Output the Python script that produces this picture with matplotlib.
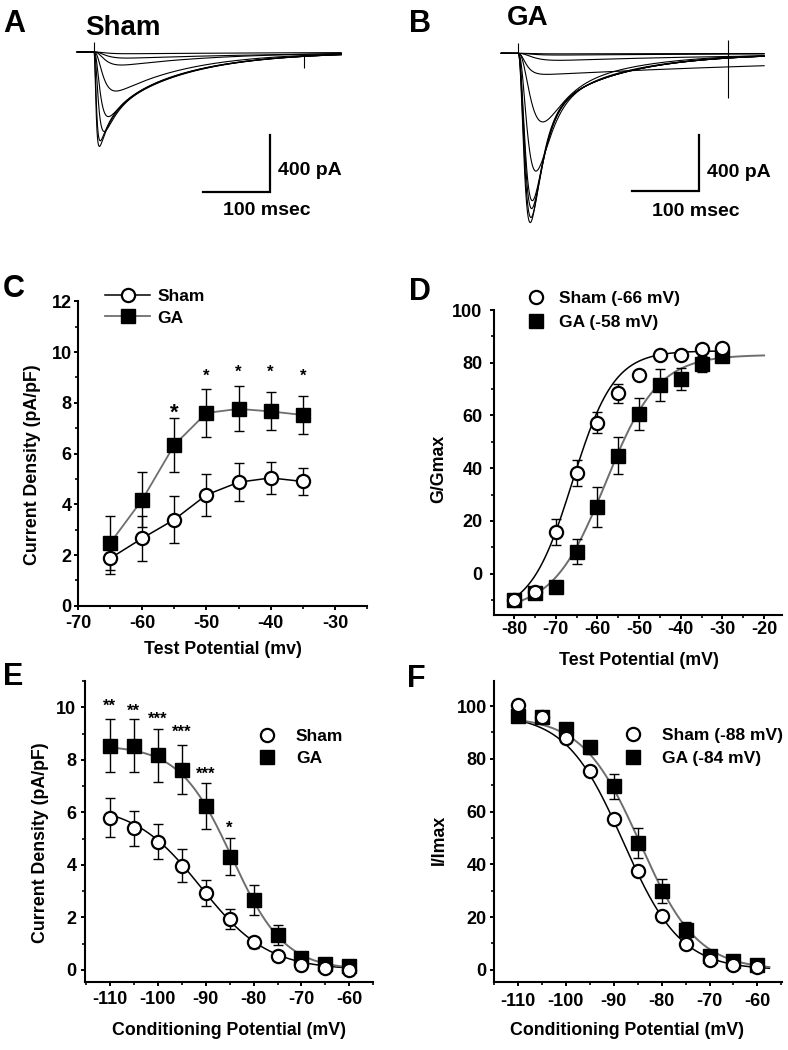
import numpy as np
import matplotlib
matplotlib.use("Agg")
import matplotlib.pyplot as plt
from matplotlib.lines import Line2D
from matplotlib.ticker import MultipleLocator

plt.rcParams["font.family"] = ["Liberation Sans", "DejaVu Sans"]
plt.rcParams["font.weight"] = "bold"
plt.rcParams["axes.labelweight"] = "bold"
plt.rcParams["axes.unicode_minus"] = False

W, H = 788, 1050
GRIGIO = "#6e6e6e"

# === A / B: tracce di corrente (pA, ms) =====================================
# ogni traccia: I(t) = -m^3 * (F*exp(-t/tau_f) + S*exp(-t/tau_s)), m = 1 - exp(-t/tau_m)
sham_tau_m = [2.0, 2.4, 4.5, 6.5, 9.0, 11.0, 12.0, 12.0]
sham_F = [377, 370, 433, 309, 0, 0, 0, 0]
sham_tau_f = [16, 16, 18, 20, 25, 25, 25, 25]
sham_S = [511, 500, 500, 490, 400, 130, 55, 15]
sham_tau_s = [112, 112, 112, 112, 112, 150, 250, 300]

ga_tau_m = [9, 10, 11, 12, 16, 20, 8, 15, 15, 15]
ga_F = [4478, 4915, 5185, 5467, 5113, 2202, 0, 0, 0, 0]
ga_tau_f = [15.5, 15.5, 15.5, 15.5, 18, 25, 25, 25, 25, 25]
ga_S = [565, 565, 565, 565, 540, 450, 165, 65, 16, 5]
ga_tau_s = [112, 112, 112, 112, 112, 112, 600, 300, 300, 300]

# artefatti di stimolo: tempo, valore basso, valore alto (pA)
art_sham = ([0, 314], [0, -113], [70, -30])
art_ga = ([0, 315], [0, -324], [77, 95])

# === C: densita' di corrente vs potenziale di test ==========================
c_v = [-65, -60, -55, -50, -45, -40, -35]
c_sham = [1.87, 2.66, 3.40, 4.37, 4.87, 5.04, 4.90]
c_sham_err = [0.60, 0.89, 0.93, 0.83, 0.75, 0.64, 0.55]
c_ga = [2.47, 4.18, 6.34, 7.60, 7.76, 7.66, 7.52]
c_ga_err = [1.06, 1.08, 1.05, 0.95, 0.89, 0.75, 0.76]
c_star_v = [-55, -50, -45, -40, -35]
c_star_y = [7.59, 9.06, 9.19, 9.19, 9.06]
c_star_size = [16, 12, 12, 12, 12]

# === D: G/Gmax ==============================================================
d_v = [-80, -75, -70, -65, -60, -55, -50, -45, -40, -35, -30]
d_sham = [-10.0, -6.8, 15.7, 38.1, 57.3, 68.4, 75.4, 82.9, 82.9, 85.2, 85.5]
d_sham_err = [1.0, 1.0, 4.9, 5.0, 4.0, 3.5, 1.0, 1.2, 1.2, 1.5, 1.5]
d_ga = [-10.0, -7.4, -4.9, 8.3, 25.4, 44.7, 60.6, 71.6, 73.7, 79.5, 82.6]
d_ga_err = [1.0, 1.0, 1.0, 4.7, 7.6, 7.0, 6.0, 6.0, 4.2, 3.0, 2.0]
# Boltzmann: basso, alto, V1/2, k, range
d_fit_sham = (-15.0, 84.5, -66.0, 5.0, -80, -30)
d_fit_ga = (-14.0, 83.0, -58.0, 6.3, -80, -20)

# === E: densita' di corrente vs potenziale di condizionamento ===============
e_v = [-110, -105, -100, -95, -90, -85, -80, -75, -70, -65, -60]
e_sham = [5.79, 5.39, 4.88, 3.97, 2.92, 1.94, 1.05, 0.53, 0.19, 0.06, 0.0]
e_sham_err = [0.74, 0.67, 0.67, 0.63, 0.50, 0.37, 0.20, 0.15, 0.10, 0.08, 0.05]
e_ga = [8.54, 8.54, 8.17, 7.63, 6.24, 4.31, 2.66, 1.33, 0.44, 0.22, 0.15]
e_ga_err = [1.02, 1.02, 1.00, 0.95, 0.86, 0.70, 0.57, 0.38, 0.15, 0.10, 0.10]
e_fit_sham = (0.0, 6.3, -91.0, 7.0, -110, -60)
e_fit_ga = (0.0, 8.55, -84.5, 5.5, -110, -60)
e_star_v = [-110, -105, -100, -95, -90, -85]
e_star_y = [10.04, 9.85, 9.53, 9.03, 7.44, 5.41]
e_star_txt = ["**", "**", "***", "***", "***", "*"]

# === F: I/Imax ==============================================================
f_v = e_v
f_sham = [100.3, 95.8, 87.8, 75.5, 57.3, 37.5, 20.3, 9.9, 3.8, 1.9, 0.9]
f_sham_err = [1.5, 1.0, 1.0, 1.0, 1.0, 1.0, 1.0, 1.0, 1.0, 0.8, 0.5]
f_ga = [96.4, 95.8, 91.3, 84.4, 69.6, 48.1, 29.9, 15.0, 5.1, 3.5, 1.9]
f_ga_err = [1.0, 1.0, 1.0, 2.5, 4.7, 5.6, 4.7, 3.0, 1.5, 1.0, 1.0]
f_fit_sham = (0.0, 97.0, -88.0, 6.0, -110, -57.5)
f_fit_ga = (0.0, 96.0, -84.5, 6.0, -110, -57.5)

fig = plt.figure(figsize=(W / 100, H / 100), dpi=100)


def add_ax(l, t, r, b):
    return fig.add_axes([l / W, 1 - b / H, (r - l) / W, (b - t) / H])


def ftext(x, y, s, **kw):
    return fig.text(x / W, 1 - y / H, s, **kw)


def corrente(t, tau_m, F, tau_f, S, tau_s):
    tt = np.clip(t, 0, None)
    m = 1 - np.exp(-tt / tau_m)
    return -(m ** 3) * (F * np.exp(-tt / tau_f) + S * np.exp(-tt / tau_s))


def boltzmann(par):
    basso, alto, v_half, k, v0, v1 = par
    v = np.linspace(v0, v1, 300)
    return v, basso + (alto - basso) / (1 + np.exp((v - v_half) / k))


def boltzmann_att(par):
    basso, alto, v_half, k, v0, v1 = par
    v = np.linspace(v0, v1, 300)
    return v, basso + (alto - basso) / (1 + np.exp((v_half - v) / k))


def pannello_tracce(ax, params, art, xlim, ylim, angolo):
    t = np.linspace(-25, 369, 2500)
    for tm, F, tf, S, ts in zip(*params):
        ax.plot(t, corrente(t, tm, F, tf, S, ts), color="k", lw=0.8)
    ax.vlines(art[0], art[1], art[2], color="k", lw=0.8)
    # barre di scala 100 ms / 400 pA
    tx, iy = angolo
    ax.plot([tx - 100, tx, tx], [iy, iy, iy + 400], color="k", lw=1.6,
            solid_joinstyle="miter")
    ax.set_xlim(*xlim)
    ax.set_ylim(*ylim)
    ax.axis("off")


# --- A ---
axA = add_ax(60, 0, 360, 235)
pannello_tracce(axA, (sham_tau_m, sham_F, sham_tau_f, sham_S, sham_tau_s), art_sham,
                (-50.7, 397), (-1291.5, 367), (262.7, -985.9))
# --- B ---
axB = add_ax(480, 0, 788, 240)
pannello_tracce(axB, (ga_tau_m, ga_F, ga_tau_f, ga_S, ga_tau_s), art_ga,
                (-57, 404.8), (-1343, 383.5), (271.4, -988.5))

ftext(3, 32, "A", fontsize=22, va="baseline")
ftext(409, 32, "B", fontsize=22, va="baseline")
ftext(85, 35, "Sham", fontsize=20, va="baseline")
ftext(507, 25, "GA", fontsize=20, va="baseline")
ftext(278, 175, "400 pA", fontsize=14, va="baseline")
ftext(707, 177, "400 pA", fontsize=14, va="baseline")
ftext(267, 215, "100 msec", fontsize=14, va="baseline", ha="center")
ftext(696, 216, "100 msec", fontsize=14, va="baseline", ha="center")
ftext(3, 297, "C", fontsize=22, va="baseline")
ftext(409, 300, "D", fontsize=22, va="baseline")
ftext(3, 685, "E", fontsize=22, va="baseline")
ftext(407, 687, "F", fontsize=22, va="baseline")


def stile(ax, xlim, ylim, xmaj, ymaj, ymin, xpad, ypad, xlabel, ylabel, xl, yl):
    ax.set_xlim(*xlim)
    ax.set_ylim(*ylim)
    for s in ["top", "right"]:
        ax.spines[s].set_visible(False)
    for s in ["left", "bottom"]:
        ax.spines[s].set_linewidth(1.5)
    ax.xaxis.set_major_locator(MultipleLocator(xmaj))
    ax.xaxis.set_minor_locator(MultipleLocator(xmaj / 2))
    ax.yaxis.set_major_locator(MultipleLocator(ymaj))
    ax.yaxis.set_minor_locator(MultipleLocator(ymin))
    ax.tick_params(which="major", direction="out", length=3.2, width=1.4, labelsize=13)
    ax.tick_params(which="minor", direction="out", length=2.2, width=1.2)
    ax.tick_params(axis="x", which="major", pad=xpad)
    ax.tick_params(axis="y", which="major", pad=ypad)
    ax.set_xlabel(xlabel, fontsize=12.8, fontweight="bold", va="center")
    ax.set_ylabel(ylabel, fontsize=12.8, fontweight="bold", va="center")
    ax.xaxis.set_label_coords(*xl)
    ax.yaxis.set_label_coords(*yl)
    ax.patch.set_alpha(0)


def legenda(ax, handles, labels, left, top, hl, pad, sp):
    ax.legend(handles, labels, loc="upper left", bbox_to_anchor=(left / W, 1 - top / H),
              bbox_transform=fig.transFigure, frameon=False, borderpad=0, borderaxespad=0,
              handlelength=hl, handletextpad=pad, labelspacing=sp,
              prop={"weight": "bold", "size": 12.5})


MS = 9.5
h_sham = dict(marker="o", ms=MS, mfc="white", mec="k", mew=1.6)
h_ga = dict(marker="s", ms=MS, mfc="k", mec="k", mew=1.0)
err = dict(fmt="none", ecolor="k", elinewidth=1.0, capsize=3.5, capthick=1.0, zorder=2)

# --- C ---
axC = add_ax(78, 301.3, 367, 605.8)
axC.plot(c_v, c_ga, color=GRIGIO, lw=1.3, zorder=1)
axC.plot(c_v, c_sham, color="k", lw=1.1, zorder=1)
axC.errorbar(c_v, c_ga, yerr=c_ga_err, **err)
axC.errorbar(c_v, c_sham, yerr=c_sham_err, **err)
axC.plot(c_v, c_ga, ls="none", zorder=3, **h_ga)
axC.plot(c_v, c_sham, ls="none", zorder=4, **h_sham)
for v, y, fs in zip(c_star_v, c_star_y, c_star_size):
    axC.text(v, y, "*", ha="center", va="center", fontsize=fs)
stile(axC, (-70, -25), (0, 12), 10, 2, 1, 3.2, 1.4,
      "Test Potential (mv)", "Current Density (pA/pF)", (0.502, -0.145), (-0.156, 0.462))
legenda(axC, [Line2D([], [], color="k", lw=1.1, **h_sham),
              Line2D([], [], color=GRIGIO, lw=1.3, **h_ga)],
        ["Sham", "GA"], 105, 289, 2.6, 0.4, 0.36)

# --- D ---
axD = add_ax(494, 310, 782, 615)
v, y = boltzmann_att(d_fit_sham)
axD.plot(v, y, color="k", lw=1.1, zorder=1)
v, y = boltzmann_att(d_fit_ga)
axD.plot(v, y, color=GRIGIO, lw=1.4, zorder=1)
axD.errorbar(d_v, d_ga, yerr=d_ga_err, **err)
axD.errorbar(d_v, d_sham, yerr=d_sham_err, **err)
axD.plot(d_v, d_ga, ls="none", zorder=3, **h_ga)
axD.plot(d_v, d_sham, ls="none", zorder=4, **h_sham)
stile(axD, (-84.8, -15.7), (-15.7, 100), 10, 20, 10, 0.8, 5.0,
      "Test Potential (mV)", "G/Gmax", (0.503, -0.148), (-0.191, 0.479))
legenda(axD, [Line2D([], [], ls="none", **h_sham), Line2D([], [], ls="none", **h_ga)],
        ["Sham (-66 mV)", "GA (-58 mV)"], 527, 291, 1.0, 0.84, 0.51)

# --- E ---
axE = add_ax(85, 681, 373.3, 981.7)
v, y = boltzmann(e_fit_sham)
axE.plot(v, y, color="k", lw=1.1, zorder=1)
v, y = boltzmann(e_fit_ga)
axE.plot(v, y, color=GRIGIO, lw=1.4, zorder=1)
axE.errorbar(e_v, e_ga, yerr=e_ga_err, **err)
axE.errorbar(e_v, e_sham, yerr=e_sham_err, **err)
axE.plot(e_v, e_ga, ls="none", zorder=3, **h_ga)
axE.plot(e_v, e_sham, ls="none", zorder=4, **h_sham)
for v, y, s in zip(e_star_v, e_star_y, e_star_txt):
    axE.text(v, y, s, ha="center", va="center", fontsize=12)
stile(axE, (-115.2, -55), (-0.45, 11), 10, 2, 1, 3.2, 3.0,
      "Conditioning Potential (mV)", "Current Density (pA/pF)", (0.501, -0.161), (-0.156, 0.463))
legenda(axE, [Line2D([], [], ls="none", **h_sham), Line2D([], [], ls="none", **h_ga)],
        ["Sham", "GA"], 258, 729, 1.0, 1.18, 0.41)

# --- F ---
axF = add_ax(494, 681, 782.3, 981.7)
v, y = boltzmann(f_fit_sham)
axF.plot(v, y, color="k", lw=1.1, zorder=1)
v, y = boltzmann(f_fit_ga)
axF.plot(v, y, color=GRIGIO, lw=1.4, zorder=1)
axF.errorbar(f_v, f_ga, yerr=f_ga_err, **err)
axF.errorbar(f_v, f_sham, yerr=f_sham_err, **err)
axF.plot(f_v, f_ga, ls="none", zorder=3, **h_ga)
axF.plot(f_v, f_sham, ls="none", zorder=4, **h_sham)
stile(axF, (-115, -54.8), (-4.5, 109.5), 10, 20, 10, 5.2, 2.0,
      "Conditioning Potential (mV)", "I/Imax", (0.46, -0.161), (-0.191, 0.471))
legenda(axF, [Line2D([], [], ls="none", **h_sham), Line2D([], [], ls="none", **h_ga)],
        ["Sham (-88 mV)", "GA (-84 mV)"], 624.6, 728, 1.0, 1.17, 0.45)

for ax in (axC, axD, axE, axF):
    for tick in ax.xaxis.get_major_ticks() + ax.yaxis.get_major_ticks():
        tick.label1.set_fontweight("bold")

fig.savefig("out.png", dpi=100)
